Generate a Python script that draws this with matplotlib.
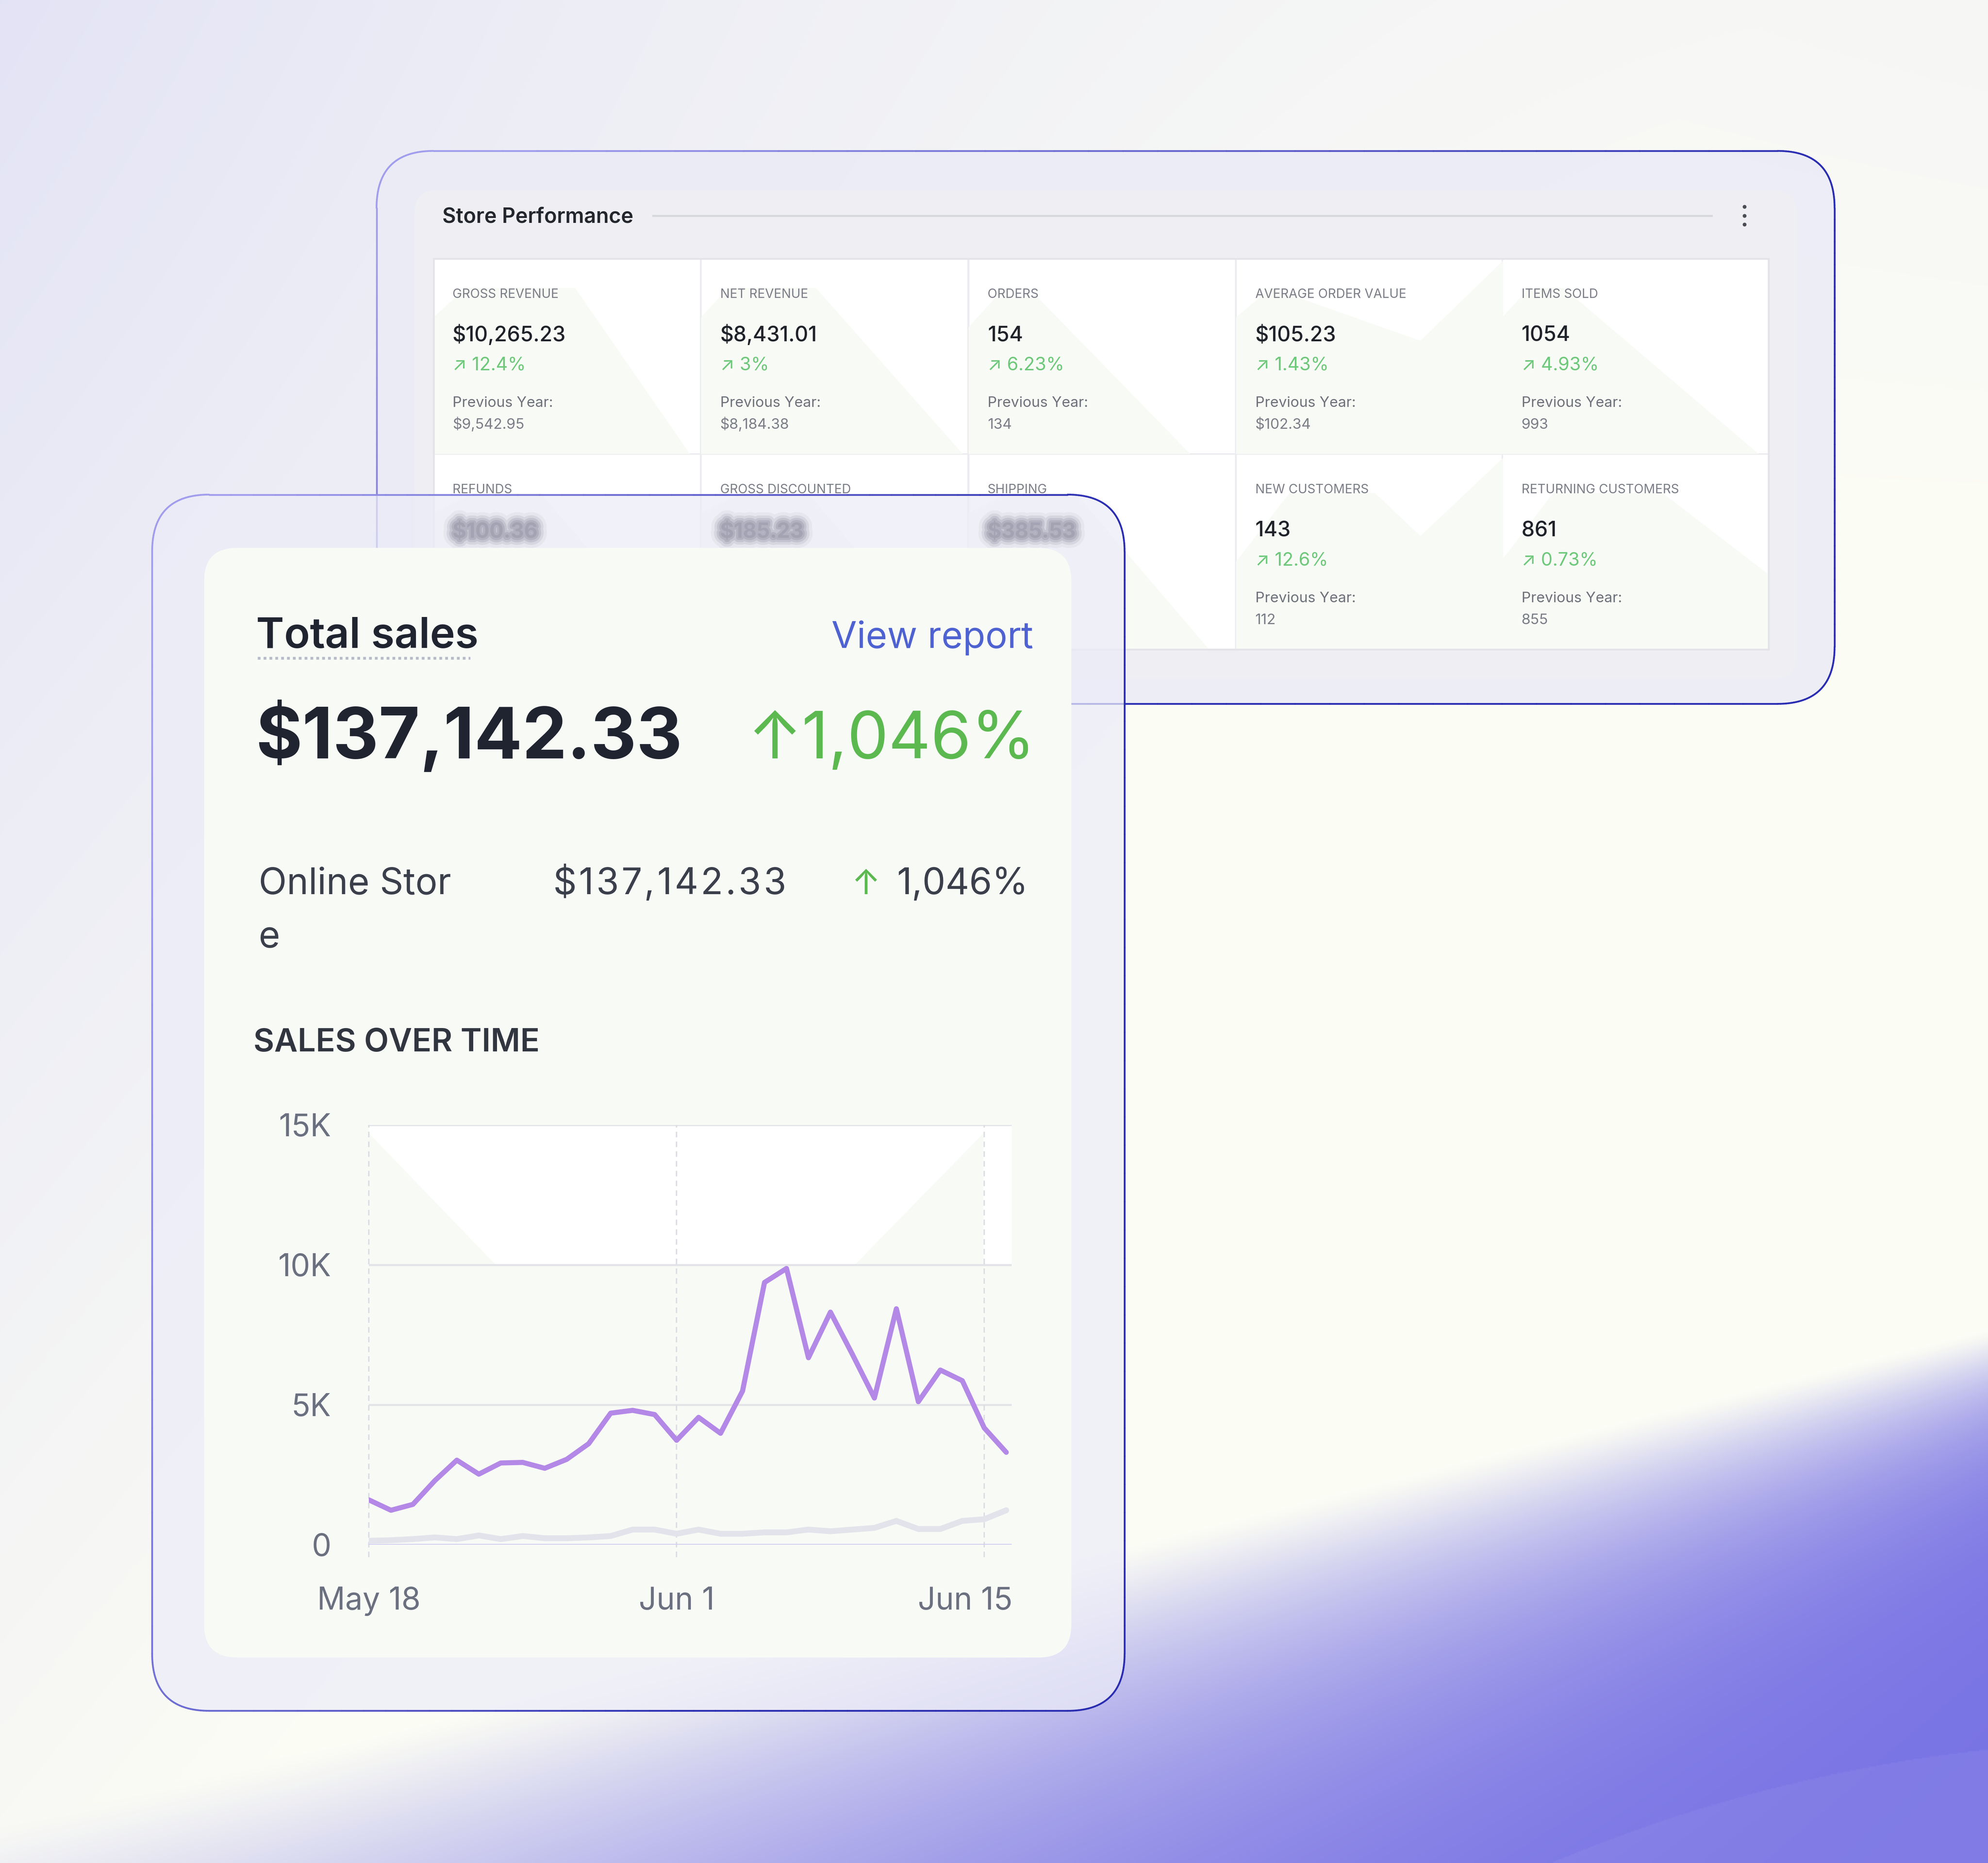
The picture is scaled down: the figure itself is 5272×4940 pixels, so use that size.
import numpy as np
import pandas as pd
import matplotlib
matplotlib.use("Agg")
import matplotlib.pyplot as plt
from matplotlib.patches import FancyBboxPatch, Rectangle, Polygon
from matplotlib.collections import LineCollection
from matplotlib.colors import to_rgb
from matplotlib import patheffects as pe
from matplotlib.transforms import ScaledTranslation

# ---- data -------------------------------------------------------------
dates = pd.date_range("2024-05-18", "2024-06-16", freq="D").to_numpy()
sales_current = [1600, 1230, 1440, 2290, 3020, 2520, 2920, 2940, 2730, 3050,
                 3610, 4700, 4800, 4650, 3730, 4550, 3980, 5490, 9370, 9870,
                 6680, 8310, 6800, 5240, 8430, 5110, 6240, 5860, 4170, 3300]
sales_previous = [140, 160, 200, 260, 200, 330, 200, 310, 230, 230,
                  260, 310, 540, 540, 390, 540, 390, 390, 440, 440,
                  540, 480, 540, 600, 850, 560, 560, 850, 910, 1230]
y_ticks = [0, 5000, 10000, 15000]
y_labels = ["0", "5K", "10K", "15K"]
x_tick_dates = ["2024-05-18", "2024-06-01", "2024-06-15"]
x_labels = ["May 18", "Jun 1", "Jun 15"]

metric_names = ["GROSS REVENUE", "NET REVENUE", "ORDERS", "AVERAGE ORDER VALUE", "ITEMS SOLD",
                "REFUNDS", "GROSS DISCOUNTED", "SHIPPING", "NEW CUSTOMERS", "RETURNING CUSTOMERS"]
metric_values = ["$10,265.23", "$8,431.01", "154", "$105.23", "1054",
                 "$100.36", "$185.23", "$385.53", "143", "861"]
metric_changes = ["12.4%", "3%", "6.23%", "1.43%", "4.93%", None, None, None, "12.6%", "0.73%"]
metric_previous = ["$9,542.95", "$8,184.38", "134", "$102.34", "993", None, None, None, "112", "855"]

total_sales = "$137,142.33"
total_change = "1,046%"
channel = ("Online Stor", "e")

# ---- figure -----------------------------------------------------------
W, H = 1568, 1469          # working units (reference preview pixels)
PX = 5272 / W              # output pixels per working unit
S = PX * 72 / 100          # points per working unit at dpi 100
FONT = ["Inter", "DejaVu Sans"]

fig = plt.figure(figsize=(52.72, 49.40), dpi=100)
bg = fig.add_axes([0, 0, 1, 1])
bg.set_xlim(0, W)
bg.set_ylim(H, 0)
bg.axis("off")

# background gradient + purple wave
yy, xx = np.mgrid[0:H, 0:W].astype(float)
lav = np.array([0.890, 0.890, 0.962])
cream = np.array([0.988, 0.992, 0.960])
w_lav = np.clip(1 - (xx / 1400 + yy / 1700), 0, 1)[..., None]
img = cream + (lav - cream) * w_lav
w_grey = (np.clip(1 - yy / 450, 0, 1) * np.clip(xx / W, 0, 1) * 0.7)[..., None]
img = img + (np.array([0.955, 0.957, 0.965]) - img) * w_grey
yb = 1046 + (W - xx) * 0.25
wd = 60 + (W - xx) * 0.14
d = np.clip(yy - yb, 0, None)
a = 1 - np.exp(-(d ** 2 / (d + 15)) / wd)
purple = np.array([0.475, 0.455, 0.895])
img = img + (purple - img) * a[..., None]
arc = ((xx - 1700) ** 2 + (yy - 2600) ** 2) < 1228 ** 2
img[arc] = img[arc] * 0.9 + 0.1 * np.array([0.75, 0.74, 0.95])
bg.imshow(img, extent=(0, W, H, 0), aspect="auto", zorder=0, interpolation="bilinear")


def rbox(x, y, w, h, r, fc, ec="none", lw=0, alpha=1.0, z=1):
    p = FancyBboxPatch((x, y), w, h, boxstyle=f"round,pad=0,rounding_size={r}",
                       fc=fc, ec=ec, lw=lw, alpha=alpha, zorder=z)
    bg.add_patch(p)
    return p


def grad_border(x, y, w, h, r, z):
    # frame outline shading from light violet (top-left) to deep blue (bottom-right)
    p = FancyBboxPatch((x, y), w, h, boxstyle=f"round,pad=0,rounding_size={r}")
    pts = []
    for seg, _ in p.get_path().iter_bezier():
        pts.append(seg(np.linspace(0, 1, 40)))
    pts = np.vstack(pts)
    segs = np.stack([pts[:-1], pts[1:]], axis=1)
    mid = segs.mean(axis=1)
    t = np.clip(((mid[:, 0] - x) / w) * 1.1 + ((mid[:, 1] - y) / h) * 0.5 - 0.1, 0, 1)
    c0, c1 = np.array(to_rgb("#a19ded")), np.array(to_rgb("#2a2db1"))
    cols = c0 + (c1 - c0) * t[:, None]
    bg.add_collection(LineCollection(segs, colors=cols, linewidths=1.4 * S, zorder=z,
                                     capstyle="round"))


def txt(x, y, s, size, color, weight="normal", ha="left", z=5, **kw):
    return bg.text(x, y, s, fontsize=size * S, color=color, fontweight=weight, ha=ha,
                   va="baseline", family=FONT, zorder=z, **kw)


def spaced(x0, x1, y, s, size, color, z=5):
    # letter-spaced text filling x0..x1
    r = fig.canvas.get_renderer()
    arts = [txt(0, y, ch, size, color, z=z) for ch in s]
    widths = [a_.get_window_extent(r).width / PX for a_ in arts]
    gap = (x1 - x0 - sum(widths)) / (len(s) - 1)
    pos = x0
    for a_, wdt in zip(arts, widths):
        a_.set_x(pos)
        pos += wdt + gap


# ---- Store Performance panel -----------------------------------------
rbox(297, 119, 1150, 436, 45, "#ebebf7", alpha=0.85, z=1)
grad_border(297, 119, 1150, 436, 45, z=1.1)
rbox(327, 150, 1090, 385, 18, "#efeff3", z=1.2)
txt(349, 176, "Store Performance", 16.5, "#23262d", weight="semibold", z=2)
bg.plot([515, 1350], [170, 170], color="#d6d8db", lw=1.6 * S, zorder=2)
bg.plot([1376] * 3, [163, 170, 177], ls="none", marker="o", ms=2.6 * S, color="#4a4d55", zorder=2)

col_left = [342, 553, 764, 975, 1185]
row_top = [204, 358]
cw, ch = 210.6, 154
mountains = [
    [(0, 1), (0, 0.3), (0.12, 0.15), (0.53, 0.15), (0.96, 1)],
    [(0, 1), (0, 0.3), (0.1, 0.15), (0.43, 0.15), (0.98, 1)],
    [(0, 1), (0, 0.35), (0.1, 0.2), (0.26, 0.2), (0.83, 1)],
    [(0, 1), (0, 0.3), (0.13, 0.15), (0.69, 0.42), (1, 0.01), (1, 1)],
    [(0, 1), (0, 0.3), (0.1, 0.15), (0.23, 0.15), (0.96, 1)],
    [(0, 1), (0, 0.3), (0.15, 0.2), (0.4, 0.2), (0.9, 1)],
    [(0, 1), (0, 0.3), (0.15, 0.2), (0.4, 0.2), (0.9, 1)],
    [(0, 1), (0, 0.3), (0.15, 0.2), (0.4, 0.2), (0.9, 1)],
    [(0, 1), (0, 0.55), (0.2, 0.2), (0.52, 0.2), (0.69, 0.42), (1, 0.02), (1, 1)],
    [(0, 1), (0, 0.54), (0.19, 0.2), (0.6, 0.2), (1, 0.62), (1, 1)],
]
for i, name in enumerate(metric_names):
    r, c = divmod(i, 5)
    x0, y0 = col_left[c], row_top[r]
    bg.add_patch(Rectangle((x0, y0), cw, ch, fc="#ffffff", ec="#ececf0", lw=1.1 * S, zorder=1.3))
    poly = [(x0 + u * cw, y0 + v * ch) for u, v in mountains[i]]
    bg.add_patch(Polygon(poly, closed=True, fc="#f8faf5", ec="none", zorder=1.35))
    tx = x0 + 15
    txt(tx, y0 + 31, name, 10, "#7b7e87", z=2)
    if metric_changes[i] is not None:
        txt(tx, y0 + 65, metric_values[i], 16.5, "#1f2229", weight="medium", z=2)
        txt(tx, y0 + 88, "\u2197 " + metric_changes[i], 14.5, "#6dc87a", z=2)
        txt(tx, y0 + 117, "Previous Year:", 11.5, "#6f727b", z=2)
        txt(tx, y0 + 134, metric_previous[i], 11.5, "#7b7e87", z=2)
bg.add_patch(Rectangle((342, 204), cw * 5, ch * 2, fc="none", ec="#e3e3e8", lw=1.4 * S, zorder=1.4))

# ---- Total sales card ------------------------------------------------
rbox(120, 390, 767, 959, 45, "#ececf9", alpha=0.72, z=3)
grad_border(120, 390, 767, 959, 45, z=3.1)
for i in (5, 6, 7):
    c = i % 5
    # values seen through the frosted frame: smudged, unreadable
    t = txt(col_left[c] + 15, 424, metric_values[i], 16.5, "#9d9dab", weight="bold", z=3.2,
            alpha=0.0)
    t.set_path_effects([pe.withStroke(linewidth=16 * S, foreground="#d6d6e2", alpha=0.35),
                        pe.withStroke(linewidth=11 * S, foreground="#c4c4d2", alpha=0.45),
                        pe.withStroke(linewidth=7 * S, foreground="#b2b2c1", alpha=0.5),
                        pe.withStroke(linewidth=3.5 * S, foreground="#a3a3b3", alpha=0.55)])
rbox(161, 432, 684, 875, 26, "#f8faf6", z=3.5)

txt(202, 511, "Total sales", 33.5, "#1f2430", weight="semibold", z=4)
bg.plot([203, 371], [519, 519], color="#b8bcc8", lw=2.2 * S, ls=(0, (1, 1.1)), zorder=4)
txt(815, 511, "View report", 29, "#4e62d1", ha="right", z=4)
txt(202, 598, total_sales, 56, "#1f2430", weight="bold", z=4)
txt(817, 598, "\u2191" + total_change, 51.5, "#5bb950", ha="right", z=4)

txt(204, 705, channel[0], 29, "#3a3f4b", z=4)
txt(204, 747, channel[1], 29, "#3a3f4b", z=4)
spaced(436, 620, 705, total_sales, 29, "#3a3f4b", z=4)
txt(683, 705, "\u2191", 27, "#5bb950", ha="center", z=4)
txt(811, 705, total_change, 29, "#3a3f4b", ha="right", z=4)
txt(200, 829, "SALES OVER TIME", 25.3, "#30353f", weight="semibold", z=4)

# ---- sales over time chart -------------------------------------------
ax = fig.add_axes([291 / W, 1 - 1218 / H, (798 - 291) / W, (1218 - 887) / H], zorder=2)
ax.set_facecolor("none")
for s in ax.spines.values():
    s.set_visible(False)
x_end = dates[0] + np.timedelta64(int(29.25 * 24), "h")
ax.set_xlim(dates[0], x_end)
ax.set_ylim(0, 15000)

# white band artefact behind the upper grid area
ax.add_patch(Polygon([(0, 1), (1, 1), (1, 0.667), (0.956, 0.667), (0.956, 0.98), (0.756, 0.667),
                      (0.197, 0.667), (0, 0.98)], closed=True, transform=ax.transAxes,
                     fc="#ffffff", ec="none", zorder=0))

for yv in y_ticks[1:]:
    ax.axhline(yv, color="#e3e4e9", lw=1.6 * S, zorder=1)
for dd in x_tick_dates:
    ax.axvline(np.datetime64(dd), ymin=-0.03, ymax=1, color="#dcdde3", lw=1.1 * S,
               ls=(0, (4, 3)), clip_on=False, zorder=1)
ax.axhline(0, color="#cfcdf1", lw=1.6 * S, zorder=1.5)

ax.plot(dates, sales_previous, color="#e3e3eb", lw=4.6 * S, solid_capstyle="round",
        solid_joinstyle="round", zorder=2)
ax.plot(dates, sales_current, color="#b388e6", lw=4.0 * S, solid_capstyle="round",
        solid_joinstyle="round", zorder=3)

ax.set_yticks(y_ticks)
ax.set_yticklabels(y_labels)
ax.set_xticks([np.datetime64(dd) for dd in x_tick_dates])
ax.set_xticklabels(x_labels)
ax.tick_params(axis="both", length=0, labelsize=24.5 * S, labelcolor="#6b7080")
ax.tick_params(axis="y", pad=30 * S)
ax.tick_params(axis="x", pad=33 * S)
for lab in ax.get_xticklabels() + ax.get_yticklabels():
    lab.set_family(FONT)
last = ax.get_xticklabels()[-1]
last.set_transform(last.get_transform() + ScaledTranslation(-15 * PX / 100, 0, fig.dpi_scale_trans))

fig.savefig("out.png", dpi=100)
